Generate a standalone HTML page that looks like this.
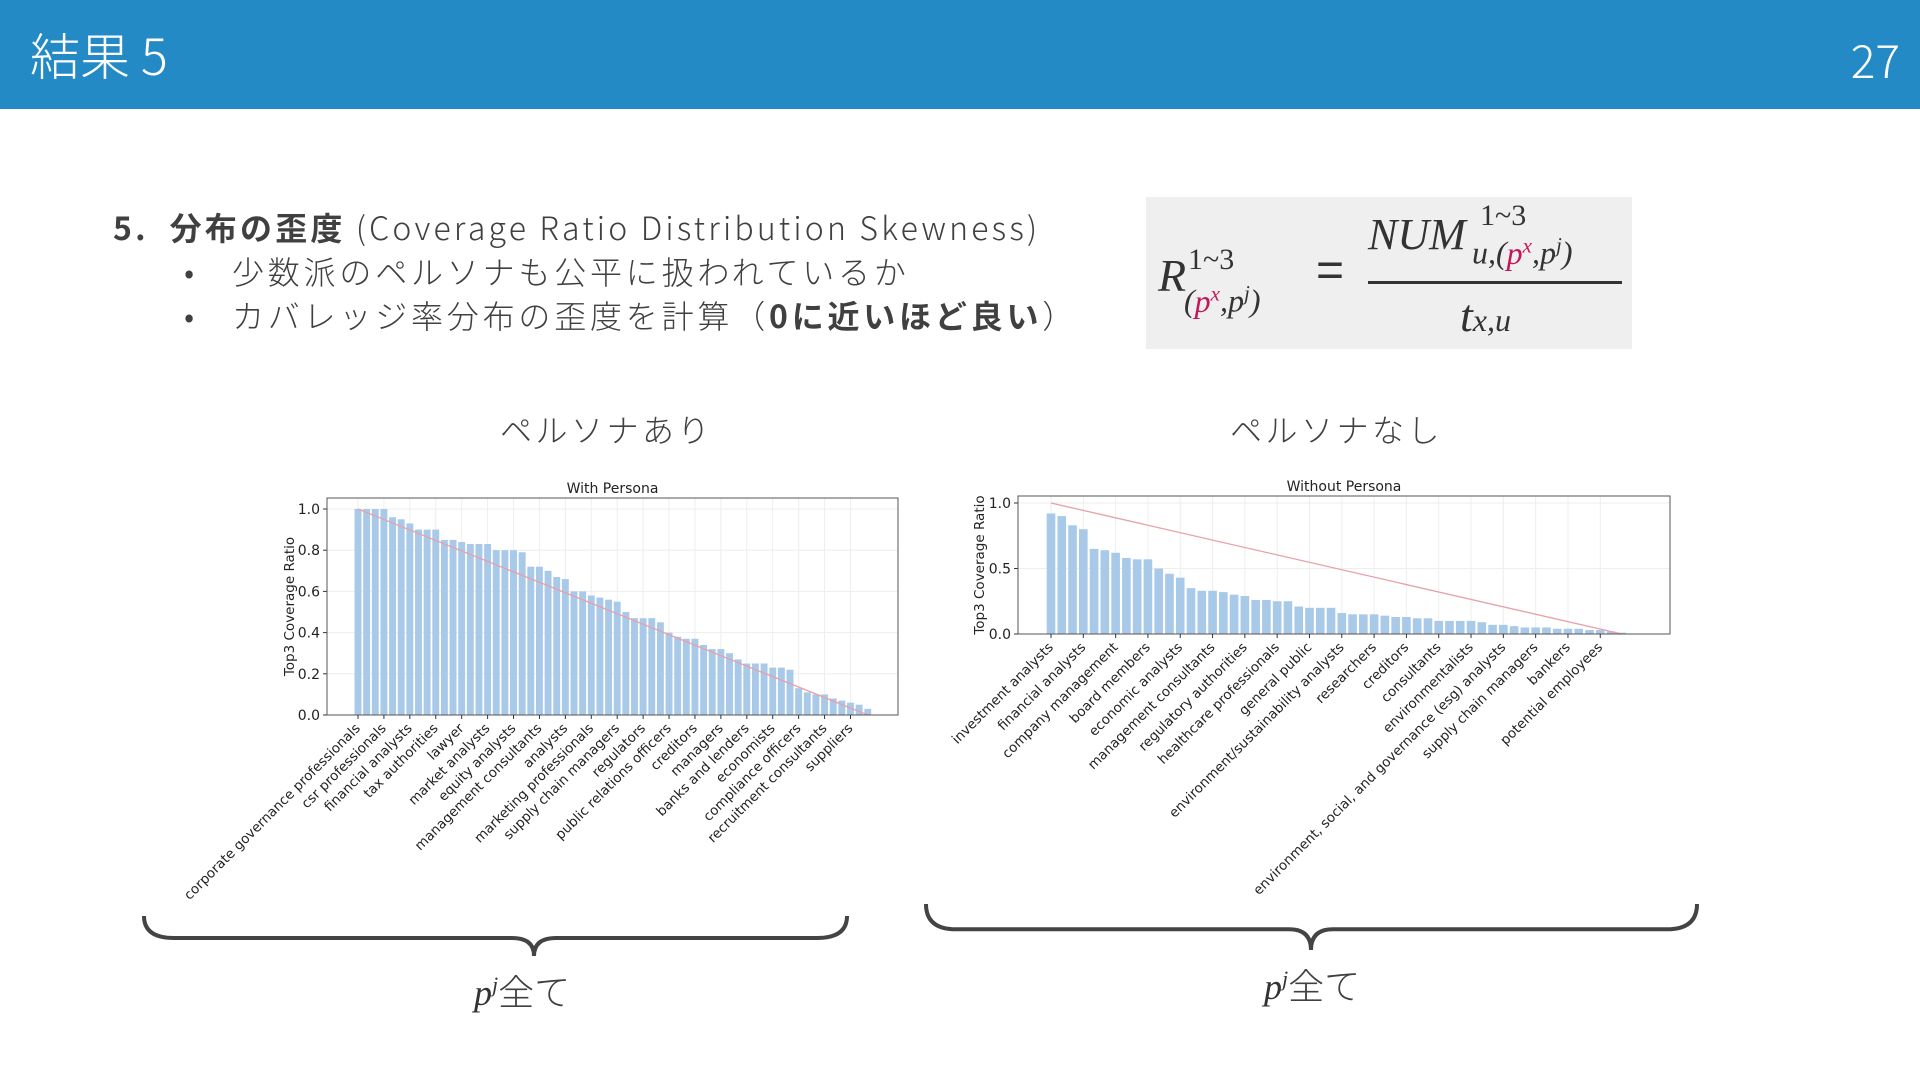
<!DOCTYPE html>
<html><head><meta charset="utf-8">
<style>
body{margin:0;width:1920px;height:1080px;background:#fff;position:relative;overflow:hidden;font-family:"Liberation Sans","Noto Sans CJK JP",sans-serif;color:#404040}
.hdr{position:absolute;left:0;top:0;width:1920px;height:109px;background:#238ac6}
.abs{position:absolute;white-space:nowrap}
.f{font-family:"Liberation Serif","Noto Serif CJK SC",serif;font-style:italic;color:#333}
.jp{font-family:'Noto Sans CJK JP',sans-serif;font-weight:300}
</style></head><body>
<div class="hdr">
 <div class="abs jp" style="left:30px;top:18px;font-size:50px;color:#fff">結果 5</div>
 <div class="abs jp" style="right:20px;top:26px;font-size:46px;color:#fff">27</div>
</div>
<div class="abs jp" style="left:113px;top:204px;font-size:32px;letter-spacing:3.2px"><b style="font-weight:700">5.&nbsp; 分布の歪度</b> (Coverage Ratio Distribution Skewness)</div>
<div class="abs jp" style="left:184px;top:248px;font-size:32px">•</div>
<div class="abs jp" style="left:232px;top:248px;font-size:32px;letter-spacing:3.8px">少数派のペルソナも公平に扱われているか</div>
<div class="abs jp" style="left:184px;top:292px;font-size:32px">•</div>
<div class="abs jp" style="left:232px;top:292px;font-size:32px;letter-spacing:3.8px">カバレッジ率分布の歪度を計算（<b style="font-weight:700">0に近いほど良い</b>）</div>
<div class="abs" style="left:1146px;top:197px;width:486px;height:152px;background:#efefef">
 <div class="abs f" style="left:12px;top:52px;font-size:46px">R</div>
 <div class="abs f" style="left:42px;top:46px;font-size:30px;font-style:normal">1~3</div>
 <div class="abs f" style="left:38px;top:84px;font-size:32px">(<span style="color:#c2185b">p<sup style="font-size:21px">x</sup></span>,p<sup style="font-size:21px">j</sup>)</div>
 <div class="abs" style="left:170px;top:46px;font-size:48px;color:#333">=</div>
 <div class="abs f" style="left:222px;top:12px;font-size:44px">NUM</div>
 <div class="abs f" style="left:334px;top:2px;font-size:30px;font-style:normal">1~3</div>
 <div class="abs f" style="left:326px;top:36px;font-size:32px">u,(<span style="color:#c2185b">p<sup style="font-size:21px">x</sup></span>,p<sup style="font-size:21px">j</sup>)</div>
 <div class="abs" style="left:222px;top:84px;width:254px;height:3px;background:#333"></div>
 <div class="abs f" style="left:314px;top:92px;font-size:46px">t<span style="font-size:32px">x,u</span></div>
</div>
<div class="abs jp" style="left:500px;top:406px;font-size:32px;letter-spacing:3.5px">ペルソナあり</div>
<div class="abs jp" style="left:1230px;top:406px;font-size:32px;letter-spacing:3.5px">ペルソナなし</div>
<svg id="c" width="1920" height="1080" style="position:absolute;left:0;top:0;font-family:'DejaVu Sans',sans-serif"></svg>
<div class="abs" style="left:474px;top:964px;font-size:36px"><span class="f">p<sup style="font-size:22px">j</sup></span><span class="jp">全て</span></div>
<div class="abs" style="left:1264px;top:958px;font-size:36px"><span class="f">p<sup style="font-size:22px">j</sup></span><span class="jp">全て</span></div>
<script>
const leftValues=[1.0,1.0,1.0,1.0,0.96,0.95,0.93,0.90,0.90,0.90,0.85,0.85,0.84,0.83,0.83,0.83,0.80,0.80,0.80,0.79,0.72,0.72,0.70,0.67,0.66,0.60,0.60,0.58,0.57,0.56,0.55,0.50,0.47,0.47,0.47,0.45,0.40,0.38,0.37,0.37,0.34,0.32,0.32,0.30,0.27,0.25,0.25,0.25,0.23,0.23,0.22,0.13,0.11,0.10,0.10,0.08,0.07,0.06,0.05,0.03];
const leftLabels=["corporate governance professionals","csr professionals","financial analysts","tax authorities","lawyer","market analysts","equity analysts","management consultants","analysts","marketing professionals","supply chain managers","regulators","public relations officers","creditors","managers","banks and lenders","economists","compliance officers","recruitment consultants","suppliers"];
const leftTicks=[0,0.2,0.4,0.6,0.8,1.0];
const rightValues=[0.92,0.90,0.83,0.80,0.65,0.64,0.62,0.58,0.57,0.57,0.50,0.46,0.43,0.35,0.33,0.33,0.32,0.30,0.29,0.26,0.26,0.25,0.25,0.21,0.20,0.20,0.20,0.16,0.15,0.15,0.15,0.14,0.13,0.13,0.12,0.12,0.10,0.10,0.10,0.10,0.09,0.07,0.07,0.06,0.05,0.05,0.05,0.04,0.04,0.04,0.03,0.03,0.02,0.01];
const rightLabels=["investment analysts","financial analysts","company management","board members","economic analysts","management consultants","regulatory authorities","healthcare professionals","general public","environment/sustainability analysts","researchers","creditors","consultants","environmentalists","environment, social, and governance (esg) analysts","supply chain managers","bankers","potential employees"];
const rightTicks=[0,0.5,1.0];
const svg=document.getElementById('c');const NS='http://www.w3.org/2000/svg';
function mk(t,a,p){const e=document.createElementNS(NS,t);for(const k in a)e.setAttribute(k,a[k]);(p||svg).appendChild(e);return e;}
function chart(o){
 const g=mk('g',{});
 
 
 const n=o.values.length;
 const xs=i=>o.x0+i*o.step;
 const ys=v=>o.yZero-(o.yZero-o.yOne)*v;
 for(let i=0;i<n;i+=3){mk('line',{x1:xs(i),x2:xs(i),y1:o.top,y2:o.bottom,stroke:'#eee','stroke-width':1},g);}
 o.ticks.forEach(t=>{
  mk('line',{x1:o.left,x2:o.right,y1:ys(t),y2:ys(t),stroke:'#eee','stroke-width':1},g);
  mk('line',{x1:o.left-4,x2:o.left,y1:ys(t),y2:ys(t),stroke:'#333'},g);
  const tx=mk('text',{x:o.left-7,y:ys(t)+5,'text-anchor':'end','font-size':14,fill:'#222'},g);
  
  
  tx.textContent=t.toFixed(1);
 });
 o.values.forEach((v,i)=>{
  const b=mk('rect',{x:xs(i)-o.step*0.4,y:ys(v),width:o.step*0.8,height:o.yZero-ys(v),fill:'#a9c9e9'},g);
  
  
 });
 const ln=mk('line',{x1:xs(0),y1:ys(1),x2:xs(n-1),y2:ys(0),stroke:'#e8a0a8','stroke-width':1.3},g);
 
 
 mk('rect',{x:o.left,y:o.top,width:o.right-o.left,height:o.bottom-o.top,fill:'none',stroke:'#555','stroke-width':1},g);
 o.labels.forEach((l,k)=>{
  const x=xs(k*3);
  mk('line',{x1:x,x2:x,y1:o.bottom,y2:o.bottom+4,stroke:'#333'},g);
  const t=mk('text',{x:x+3,y:o.bottom+14,'text-anchor':'end','font-size':13.5,fill:'#222',transform:`rotate(-45 ${x+3} ${o.bottom+14})`},g);
  
  
  t.textContent=l;
 });
 const tt=mk('text',{x:(o.left+o.right)/2,y:o.top-5,'text-anchor':'middle','font-size':14,fill:'#222'},g);
 
 
 tt.textContent=o.title;
 const yc=(o.top+o.bottom)/2;
 const yl=mk('text',{x:o.ylx,y:yc,'text-anchor':'middle','font-size':13.5,fill:'#222',transform:`rotate(-90 ${o.ylx} ${yc})`},g);
 
 
 yl.textContent='Top3 Coverage Ratio';
}
chart({name:'with-persona-chart',values:leftValues,labels:leftLabels,ticks:leftTicks,x0:358,step:8.64,left:327,right:898,top:498,bottom:715,yOne:509,yZero:715,title:'With Persona',ylx:294});
chart({name:'without-persona-chart',values:rightValues,labels:rightLabels,ticks:rightTicks,x0:1051,step:10.77,left:1018,right:1670,top:496,bottom:634,yOne:503,yZero:634,title:'Without Persona',ylx:984});
function brace(x1,x2,m,y1,y2,name){
 const h=(y2-y1),yy=y1+h*0.55;
 const p=mk('path',{d:`M${x1} ${y1} Q${x1} ${yy} ${x1+30} ${yy} L${m-22} ${yy} Q${m} ${yy} ${m} ${y2} Q${m} ${yy} ${m+22} ${yy} L${x2-30} ${yy} Q${x2} ${yy} ${x2} ${y1}`,fill:'none',stroke:'#444','stroke-width':4});
 
 
}
brace(144,847,534,916,956,'left-brace');
brace(926,1697,1311,904,950,'right-brace');
</script>
</body></html>
